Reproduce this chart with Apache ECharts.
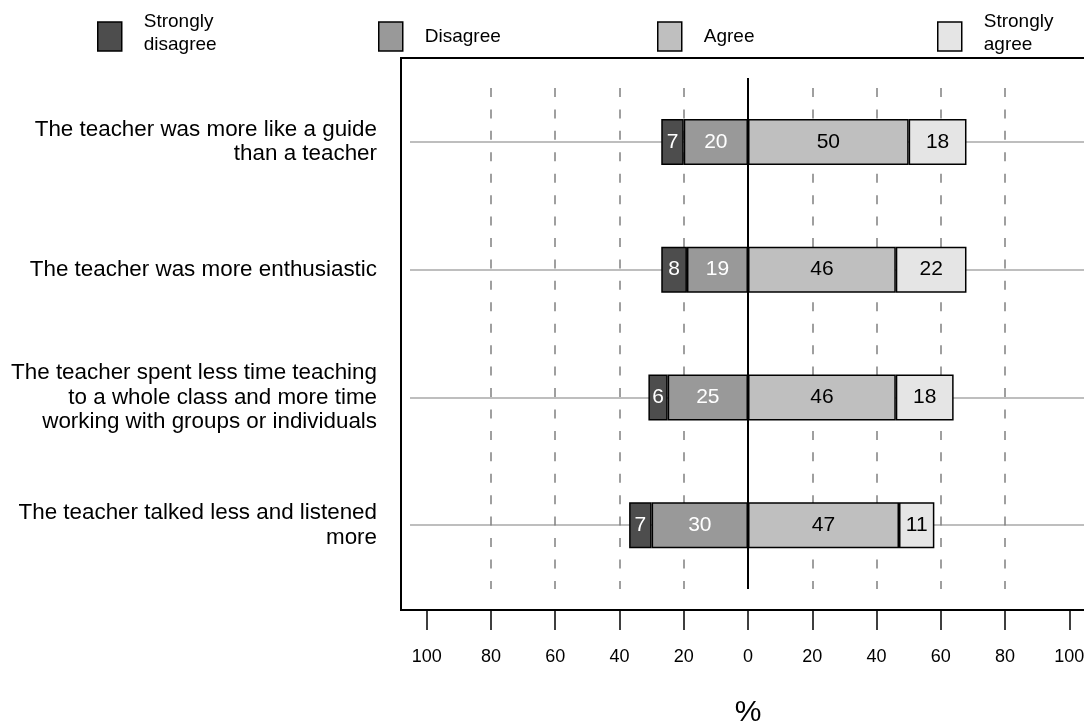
<!DOCTYPE html>
<html><head><meta charset="utf-8">
<script src="https://cdn.jsdelivr.net/npm/echarts@6/dist/echarts.min.js"></script>
<style>html,body{margin:0;padding:0;background:#fff;overflow:hidden;width:1084px;height:726px}#c{width:1100px;height:726px}</style>
</head><body><div id="c"></div>
<script>
const categories = [
  "The teacher was more like a guide\nthan a teacher",
  "The teacher was more enthusiastic",
  "The teacher spent less time teaching\nto a whole class and more time\nworking with groups or individuals",
  "The teacher talked less and listened\nmore"
];
const stronglyDisagree = [7, 8, 6, 7];
const disagree = [20, 19, 25, 30];
const agree = [50, 46, 46, 47];
const stronglyAgree = [18, 22, 18, 11];
const tickValues = [-100, -80, -60, -40, -20, 0, 20, 40, 60, 80, 100];
const dashedValues = [-80, -60, -40, -20, 20, 40, 60, 80];

const FONT = 'Liberation Sans, Arial, sans-serif';
const names = ['Strongly\ndisagree', 'Disagree', 'Agree', 'Strongly\nagree'];
const colors = ['#4d4d4d', '#999999', '#bfbfbf', '#e5e5e5'];

function barSeries(name, vals, sign, color, labelColor) {
  return {
    name: name, type: 'bar', stack: 'total', xAxisIndex: 1, yAxisIndex: 1,
    barWidth: 46, z: 5,
    data: vals.map(v => sign * v),
    itemStyle: { color: color, borderColor: '#000', borderWidth: 1.5 },
    label: { show: true, position: 'inside', color: labelColor, fontSize: 21, fontFamily: FONT,
      formatter: p => Math.abs(p.value) }
  };
}

const legendLefts = [97, 378, 657, 937];
const legends = names.map((n, i) => {
  const two = n.indexOf('\n') >= 0;
  const l = {
    data: [n], left: legendLefts[i], top: 19, padding: 0,
    itemWidth: 24, itemHeight: 29, icon: 'rect', selectedMode: false,
    textStyle: { fontSize: 19, fontFamily: FONT, color: '#000', lineHeight: 23, padding: [0, 0, 12, 17] },
    itemStyle: { borderColor: '#000', borderWidth: 1.5 }
  };
  if (two) {
    l.top = 10.5;
    l.formatter = nm => nm.split('\n').map(s => '{a|' + s + '}').join('\n') + '\n{b| }';
    l.textStyle.padding = [0, 0, 0, 17];
    l.textStyle.rich = {
      a: { fontSize: 19, fontFamily: FONT, color: '#000', lineHeight: 23 },
      b: { fontSize: 2, lineHeight: 6 }
    };
  }
  return l;
});

const option = {
  animation: false,
  backgroundColor: '#fff',
  legend: legends,
  grid: [
    { left: 401, top: 58, right: 5, bottom: 116, show: true, borderColor: '#000', borderWidth: 2, backgroundColor: 'transparent', outerBoundsMode: 'none', containLabel: false },
    { left: 410, top: 78, right: 5, bottom: 137, outerBoundsMode: 'none', containLabel: false }
  ],
  xAxis: [
    { type: 'value', gridIndex: 0, min: -108, max: 108,
      axisLine: { show: false }, splitLine: { show: false },
      axisTick: { show: true, inside: false, length: 20, customValues: tickValues, lineStyle: { color: '#000', width: 1.5 } },
      axisLabel: { customValues: tickValues, margin: 38, fontSize: 18, fontFamily: FONT, color: '#000', formatter: v => Math.abs(v) },
      name: '%', nameLocation: 'middle', nameGap: 88, nameTextStyle: { fontSize: 30, fontFamily: FONT, color: '#000' }
    },
    { type: 'value', gridIndex: 1, min: -105.2, max: 108, show: false }
  ],
  yAxis: [
    { type: 'value', gridIndex: 0, show: false },
    { type: 'category', gridIndex: 1, inverse: true, data: categories,
      axisLine: { show: false }, axisTick: { show: false }, splitLine: { show: false },
      axisLabel: { margin: 33, fontSize: 22.4, lineHeight: 24.5, fontFamily: FONT, color: '#000' } }
  ],
  series: [
    { type: 'line', xAxisIndex: 1, yAxisIndex: 1, data: [], z: 1, silent: true,
      markLine: { symbol: 'none', silent: true, label: { show: false },
        lineStyle: { color: '#bebebe', width: 2, type: 'solid' },
        data: categories.map((c, i) => ({ yAxis: i })) } },
    { type: 'line', xAxisIndex: 1, yAxisIndex: 1, data: [], z: 2, silent: true,
      markLine: { symbol: 'none', silent: true, label: { show: false },
        lineStyle: { color: '#808080', width: 1.5, type: [9, 12.43], dashOffset: 11.43 },
        data: dashedValues.map(v => ({ xAxis: v })) } },
    barSeries(names[1], disagree, -1, colors[1], '#fff'),
    barSeries(names[0], stronglyDisagree, -1, colors[0], '#fff'),
    barSeries(names[2], agree, 1, colors[2], '#000'),
    barSeries(names[3], stronglyAgree, 1, colors[3], '#000'),
    { type: 'line', xAxisIndex: 1, yAxisIndex: 1, data: [], z: 10, silent: true,
      markLine: { symbol: 'none', silent: true, label: { show: false },
        lineStyle: { color: '#000', width: 2, type: 'solid' },
        data: [{ xAxis: 0 }] } }
  ]
};
const chart = echarts.init(document.getElementById('c'), null, { renderer: 'canvas' });
chart.setOption(option);
</script></body></html>
